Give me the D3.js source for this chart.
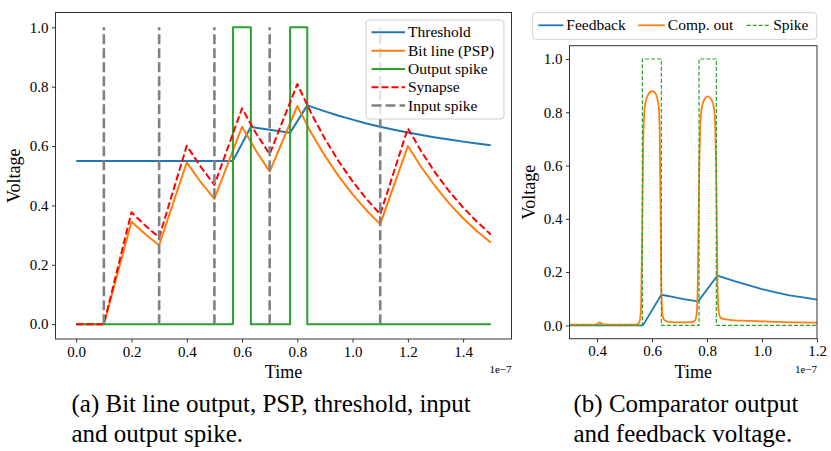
<!DOCTYPE html>
<html>
<head>
<meta charset="utf-8">
<script src="https://cdn.jsdelivr.net/npm/d3@7"></script>
<style>
  body { margin: 0; background: #fff; }
  svg { display: block; }
</style>
</head>
<body>
<div id="chart"></div>
<script>
// ---- data (time in units of 1e-7 s) ----
const thresholdPts = [[0,0.55],[0.567,0.55],[0.632,0.665],[0.65,0.662],[0.7,0.655],[0.75,0.648],[0.774,0.645],
  [0.836,0.737],[0.9,0.717],[0.95,0.702],[1.0,0.689],[1.05,0.676],[1.1,0.665],[1.15,0.655],[1.2,0.646],
  [1.25,0.637],[1.3,0.629],[1.35,0.622],[1.4,0.615],[1.45,0.609],[1.5,0.603]];
const bitLinePts = [[0,0],[0.1,0],[0.2,0.345],[0.25,0.303],[0.3,0.266],[0.4,0.545],[0.45,0.479],[0.5,0.422],
  [0.6,0.665],[0.65,0.585],[0.7,0.514],[0.8,0.735],[0.85,0.645],[0.9,0.567],[0.95,0.498],[1.0,0.437],
  [1.05,0.384],[1.1,0.337],[1.2,0.6],[1.25,0.527],[1.3,0.463],[1.35,0.406],[1.4,0.357],[1.45,0.313],[1.5,0.275]];
const outSpikePts = [[0,0],[0.567,0],[0.567,1],[0.632,1],[0.632,0],[0.774,0],[0.774,1],[0.836,1],[0.836,0],[1.5,0]];
const synapsePts = [[0,0],[0.1,0],[0.2,0.377],[0.25,0.332],[0.3,0.292],[0.4,0.601],[0.45,0.531],[0.5,0.469],
  [0.6,0.727],[0.65,0.644],[0.7,0.573],[0.8,0.809],[0.85,0.711],[0.9,0.624],[0.95,0.548],[1.0,0.481],
  [1.05,0.422],[1.1,0.37],[1.2,0.66],[1.25,0.58],[1.3,0.509],[1.35,0.447],[1.4,0.393],[1.45,0.345],[1.5,0.302]];
const inputSpikeTimes = [0.1, 0.3, 0.5, 0.7, 1.1];
const inputSpikeHeight = 1.0;

const feedbackPts = [[0.3,0],[0.567,0],[0.634,0.115],[0.68,0.106],[0.72,0.098],[0.768,0.09],[0.838,0.187],
  [0.9,0.166],[0.95,0.151],[1.0,0.136],[1.05,0.124],[1.1,0.113],[1.15,0.105],[1.2,0.097]];
const compOutPts = [[0.3,0.003],[0.39,0.003],[0.4,0.004],[0.405,0.008],[0.41,0.011],[0.415,0.008],[0.42,0.004],
  [0.5,0.003],[0.54,0.003],[0.55,0.006],[0.556,0.02],[0.56,0.07],[0.563,0.25],[0.566,0.5],[0.568,0.68],
  [0.571,0.78],[0.576,0.835],[0.585,0.864],[0.6,0.879],[0.611,0.873],[0.619,0.853],[0.625,0.815],[0.628,0.72],
  [0.631,0.45],[0.633,0.2],[0.636,0.07],[0.64,0.03],[0.648,0.017],[0.66,0.013],[0.7,0.011],[0.74,0.012],
  [0.755,0.016],[0.762,0.04],[0.766,0.13],[0.769,0.35],[0.772,0.6],[0.775,0.74],[0.78,0.81],[0.789,0.845],
  [0.802,0.86],[0.813,0.852],[0.82,0.838],[0.826,0.81],[0.83,0.75],[0.833,0.6],[0.836,0.35],[0.838,0.16],
  [0.841,0.07],[0.846,0.035],[0.855,0.025],[0.88,0.021],[0.95,0.017],[1.05,0.013],[1.2,0.01]];
const spikePts = [[0.3,0],[0.565,0],[0.565,1],[0.634,1],[0.634,0],[0.771,0],[0.771,1],[0.834,1],[0.834,0],[1.2,0]];

const ticksA_x = [0, 0.2, 0.4, 0.6, 0.8, 1.0, 1.2, 1.4];
const ticksB_x = [0.4, 0.6, 0.8, 1.0, 1.2];
const ticksY = [0, 0.2, 0.4, 0.6, 0.8, 1.0];

const captionA = ["(a) Bit line output, PSP, threshold, input", "and output spike."];
const captionB = ["(b) Comparator output", "and feedback voltage."];

// ---- setup ----
const width = 831, height = 451;
const FONT = "'Liberation Serif', 'Times New Roman', Tinos, serif";
const svg = d3.select("#chart").append("svg")
  .attr("width", width).attr("height", height)
  .style("font-family", FONT);
svg.append("rect").attr("width", width).attr("height", height).attr("fill", "#fff");

const fmt = d3.format(".1f");

function drawAxes(x, y, xTicks) {
  const [x0] = x.range();
  const [y0] = y.range();
  svg.append("g")
    .attr("transform", `translate(0,${y0})`)
    .call(d3.axisBottom(x).tickValues(xTicks).tickFormat(fmt).tickSize(3.5).tickPadding(3.5).tickSizeOuter(0))
    .call(g => g.select(".domain").remove())
    .call(g => g.selectAll("line").attr("stroke", "#333"))
    .call(g => g.selectAll("text").attr("fill", "#000").style("font-size", "15px").style("font-family", FONT));
  svg.append("g")
    .attr("transform", `translate(${x0},0)`)
    .call(d3.axisLeft(y).tickValues(ticksY).tickFormat(fmt).tickSize(3.5).tickPadding(3.5).tickSizeOuter(0))
    .call(g => g.select(".domain").remove())
    .call(g => g.selectAll("line").attr("stroke", "#333"))
    .call(g => g.selectAll("text").attr("fill", "#000").style("font-size", "15px").style("font-family", FONT));
}

function frame(x, y) {
  const [x0, x1] = x.range();
  const [y0, y1] = y.range();
  svg.append("rect")
    .attr("x", x0).attr("y", y1)
    .attr("width", x1 - x0).attr("height", y0 - y1)
    .attr("fill", "none").attr("stroke", "#333").attr("stroke-width", 1);
}

function drawLine(pts, x, y, color, w, dash, curve) {
  const line = d3.line().x(d => x(d[0])).y(d => y(d[1])).curve(curve || d3.curveLinear);
  svg.append("path").datum(pts)
    .attr("d", line)
    .attr("fill", "none")
    .attr("stroke", color)
    .attr("stroke-width", w)
    .attr("stroke-dasharray", dash || null)
    .attr("stroke-linejoin", "round");
}

function legend(items, box, rows) {
  svg.append("rect")
    .attr("x", box.x).attr("y", box.y).attr("width", box.w).attr("height", box.h)
    .attr("rx", 3).attr("fill", "#fff").attr("fill-opacity", 0.8)
    .attr("stroke", "#d0d0d0").attr("stroke-width", 1);
  items.forEach((it, i) => {
    const r = rows[i];
    svg.append("line")
      .attr("x1", r.x).attr("x2", r.x + r.len).attr("y1", r.y).attr("y2", r.y)
      .attr("stroke", it.color).attr("stroke-width", it.w).attr("stroke-dasharray", it.dash || null);
    svg.append("text")
      .attr("x", r.x + r.len + 3).attr("y", r.y + 5)
      .style("font-size", "15.5px").style("font-family", FONT).attr("fill", "#000")
      .text(it.name);
  });
}

// ---- (a) ----
const xA = d3.scaleLinear().domain([-0.075, 1.575]).range([55.5, 511.5]);
const yA = d3.scaleLinear().domain([-0.05, 1.05]).range([339, 12.5]);

drawLine(thresholdPts, xA, yA, "#1f77b4", 2);
drawLine(bitLinePts, xA, yA, "#ff7f0e", 2);
drawLine(outSpikePts, xA, yA, "#2ca02c", 2);
drawLine(synapsePts, xA, yA, "#ff0000", 2, "7,3");
inputSpikeTimes.forEach(t => {
  svg.append("line")
    .attr("x1", xA(t)).attr("x2", xA(t))
    .attr("y1", yA(0)).attr("y2", yA(inputSpikeHeight))
    .attr("stroke", "#808080").attr("stroke-width", 2.6).attr("stroke-dasharray", "10,4");
});
frame(xA, yA);
drawAxes(xA, yA, ticksA_x);

const legendA = [
  { name: "Threshold", color: "#1f77b4", w: 2 },
  { name: "Bit line (PSP)", color: "#ff7f0e", w: 2 },
  { name: "Output spike", color: "#2ca02c", w: 2 },
  { name: "Synapse", color: "#ff0000", w: 2, dash: "7,3" },
  { name: "Input spike", color: "#808080", w: 2.6, dash: "10,4" }
];
legend(legendA, { x: 366, y: 20, w: 138, h: 99 },
  [32.3, 50.7, 69, 87.3, 105.5].map(y => ({ x: 371.5, y, len: 33.5 })));

svg.append("text")
  .attr("x", (55.5 + 511.5) / 2).attr("y", 378)
  .attr("text-anchor", "middle").style("font-size", "18px").text("Time");
svg.append("text")
  .attr("transform", `translate(20,${(339 + 12.5) / 2}) rotate(-90)`)
  .attr("text-anchor", "middle").style("font-size", "18px").text("Voltage");
svg.append("text")
  .attr("x", 511.5).attr("y", 373)
  .attr("text-anchor", "end").style("font-size", "11px").text("1e\u22127");

// ---- (b) ----
const xB = d3.scaleLinear().domain([0.3, 1.2]).range([569.5, 817]);
const yB = d3.scaleLinear().domain([-0.05, 1.05]).range([338.7, 45.7]);

drawLine(feedbackPts, xB, yB, "#1f77b4", 1.8);
drawLine(compOutPts, xB, yB, "#ff7f0e", 1.8, null, d3.curveMonotoneX);
drawLine(spikePts, xB, yB, "#2ca02c", 1.2, "4,2");
frame(xB, yB);
drawAxes(xB, yB, ticksB_x);

const legendB = [
  { name: "Feedback", color: "#1f77b4", w: 1.8 },
  { name: "Comp. out", color: "#ff7f0e", w: 1.8 },
  { name: "Spike", color: "#2ca02c", w: 1.2, dash: "4,2" }
];
legend(legendB, { x: 532.7, y: 12.7, w: 284, h: 26.6 },
  [{ x: 538.3, y: 25.3, len: 25 }, { x: 638.3, y: 25.3, len: 26.5 }, { x: 746.7, y: 25.3, len: 23.5 }]);

svg.append("text")
  .attr("x", (569.5 + 817) / 2).attr("y", 378)
  .attr("text-anchor", "middle").style("font-size", "18px").text("Time");
svg.append("text")
  .attr("transform", `translate(535,${(338.7 + 45.7) / 2}) rotate(-90)`)
  .attr("text-anchor", "middle").style("font-size", "18px").text("Voltage");
svg.append("text")
  .attr("x", 817).attr("y", 373)
  .attr("text-anchor", "end").style("font-size", "11px").text("1e\u22127");

// ---- captions ----
function caption(lines, x) {
  const t = svg.append("text").attr("x", x).attr("y", 412).style("font-size", "25px").attr("fill", "#000");
  lines.forEach((s, i) => t.append("tspan").attr("x", x).attr("y", 412 + i * 30).text(s));
}
caption(captionA, 71.5);
caption(captionB, 573.5);
</script>
</body>
</html>
